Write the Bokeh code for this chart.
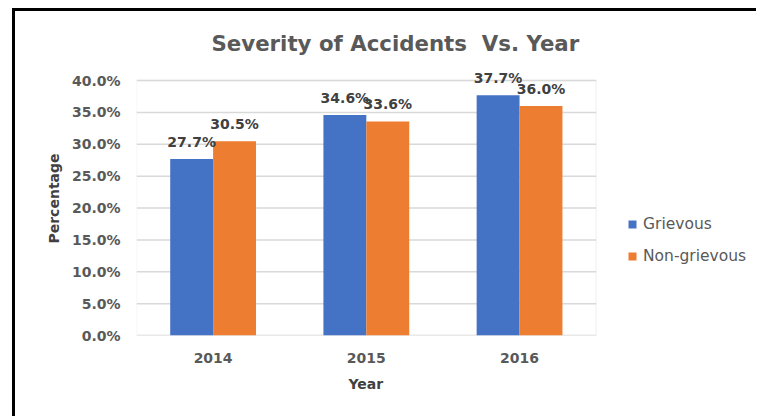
from bokeh.plotting import figure
from bokeh.models import (ColumnDataSource, LabelSet, Legend, LegendItem,
                          NumeralTickFormatter, FixedTicker, BoxAnnotation, Title)
from bokeh.core.properties import value
from bokeh.embed import file_html
from bokeh.resources import INLINE

years = ["2014", "2015", "2016"]
grievous = [0.277, 0.346, 0.377]
non_grievous = [0.305, 0.336, 0.360]
y_ticks = [0.0, 0.05, 0.10, 0.15, 0.20, 0.25, 0.30, 0.35, 0.40]
y_max = 0.40

FONT = "DejaVu Sans"
GREY = "#595959"
DARK = "#404040"
BLUE = "#4472C4"
ORANGE = "#ED7D31"
GRID = "#d9d9d9"

bw = 0.28                      # width of one bar, in category units
pos = [i + 1 for i in range(len(years))]
x_lo, x_hi = 0.5, len(years) + 0.5

src = ColumnDataSource(data=dict(
    xg=[x - bw / 2 for x in pos],
    xn=[x + bw / 2 for x in pos],
    g=grievous,
    n=non_grievous,
    g_lab=[f"{v * 100:.1f}%" for v in grievous],
    n_lab=[f"{v * 100:.1f}%" for v in non_grievous],
))

# the frame runs past the plot area on the right to host the legend,
# and a little above the top tick so the value labels have room
p = figure(
    x_range=(x_lo, x_lo + 4.04),
    y_range=(0, 0.43),
    width=744, height=408,
    output_backend="svg", toolbar_location=None, tools="",
    min_border_left=121, min_border_right=4,
    min_border_top=50, min_border_bottom=84,
)
p.styles = {"border-top": "3px solid #000", "border-left": "3px solid #000",
            "margin-top": "8px", "margin-left": "12px"}

# horizontal grid lines across the plot area only
p.segment(x0=[x_lo] * len(y_ticks), x1=[x_hi] * len(y_ticks), y0=y_ticks, y1=y_ticks,
          line_color=GRID, line_width=1.5, level="underlay")
p.add_layout(BoxAnnotation(left=x_lo, right=x_hi, bottom=0, top=y_max, fill_alpha=0,
                           line_color=GRID, line_width=1.5, level="underlay"))

# bars
r_g = p.vbar(x="xg", top="g", width=bw, source=src, fill_color=BLUE, line_color=None)
r_n = p.vbar(x="xn", top="n", width=bw, source=src, fill_color=ORANGE, line_color=None)

# value labels above bars
for xc, col, lab in (("xg", "g", "g_lab"), ("xn", "n", "n_lab")):
    p.add_layout(LabelSet(x=xc, y=col, text=lab, source=src,
                          text_align="center", text_baseline="middle", y_offset=17,
                          text_font=value(FONT), text_font_style="bold",
                          text_font_size="14px", text_color=DARK))

# title
p.title.text = "Severity of Accidents\u00a0 Vs. Year"
p.title.align = "left"
p.title.offset = 75
p.title.standoff = 12
p.title.text_font = FONT
p.title.text_font_size = "21.3px"
p.title.text_font_style = "bold"
p.title.text_color = GREY

# axes
p.xaxis.ticker = FixedTicker(ticks=pos)
p.xaxis.major_label_overrides = {x: y for x, y in zip(pos, years)}
p.yaxis.ticker = FixedTicker(ticks=y_ticks)
p.yaxis.formatter = NumeralTickFormatter(format="0.0%")
p.yaxis.axis_label = "Percentage"
for ax in (p.xaxis[0], p.yaxis[0]):
    ax.axis_line_color = None
    ax.major_tick_line_color = None
    ax.minor_tick_line_color = None
    ax.major_label_text_font = FONT
    ax.major_label_text_font_style = "bold"
    ax.major_label_text_font_size = "14px"
    ax.major_label_text_color = GREY
    ax.axis_label_text_font = FONT
    ax.axis_label_text_font_style = "bold"
    ax.axis_label_text_font_size = "14px"
    ax.axis_label_text_color = DARK
p.xaxis.major_label_standoff = 11
p.yaxis.major_label_standoff = 10
p.yaxis.axis_label_standoff = 7

# x-axis caption, centred under the plot area rather than the whole frame
p.add_layout(Title(text="Year", align="left", offset=212, standoff=17,
                   text_font=FONT, text_font_size="14px", text_font_style="bold",
                   text_color=DARK), "below")

p.xgrid.grid_line_color = None
p.ygrid.grid_line_color = None
p.outline_line_color = None

# legend to the right of the plot area
legend = Legend(items=[LegendItem(label="Grievous", renderers=[r_g]),
                       LegendItem(label="Non-grievous", renderers=[r_n])],
                location=(491, 69), orientation="vertical",
                glyph_width=10, glyph_height=10, label_height=20, spacing=12,
                padding=0, margin=0,
                label_text_font=FONT, label_text_font_size="15.5px",
                label_text_color=GREY, label_standoff=6,
                border_line_color=None, background_fill_alpha=0)
p.add_layout(legend, "center")

open("out.html", "w").write(file_html(p, INLINE))
